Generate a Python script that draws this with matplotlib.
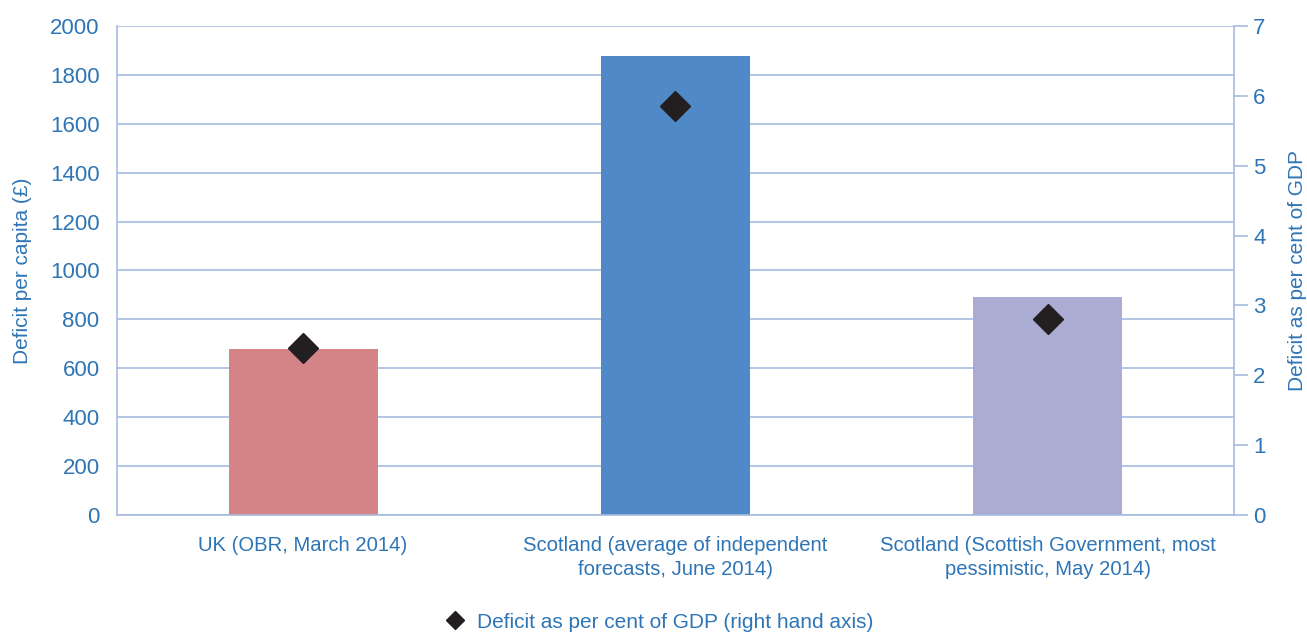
import matplotlib.pyplot as plt
from matplotlib.lines import Line2D

plt.rcParams['font.family'] = ['Liberation Sans', 'DejaVu Sans']

# data
categories = ["UK (OBR, March 2014)",
              "Scotland (average of independent\nforecasts, June 2014)",
              "Scotland (Scottish Government, most\npessimistic, May 2014)"]
per_capita = [680, 1877, 892]
pct_gdp = [2.39, 5.86, 2.81]
bar_colors = ["#D48387", "#4F89C7", "#AAACD3"]

text_col = "#2E75B6"
line_col = "#A7BADF"

fig = plt.figure(figsize=(13.07, 6.33), dpi=100)
ax = fig.add_axes([0.0895, 0.1864, 0.8545, 0.7726])
x = range(len(categories))
ax.bar(x, per_capita, width=0.4, color=bar_colors, zorder=2)
ax.set_xlim(-0.5, 2.5)
ax.set_ylim(0, 2000)
ax.set_yticks(range(0, 2001, 200))
ax.grid(axis='y', color=line_col, linewidth=1.2, zorder=0)
ax.set_xticks(list(x))
ax.set_xticklabels(categories, linespacing=1.32)
ax.tick_params(axis='both', length=0, labelsize=16, labelcolor=text_col)
ax.tick_params(axis='x', labelsize=14.6, pad=15)
ax.tick_params(axis='y', pad=12.5)
for s in ['top', 'right']:
    ax.spines[s].set_visible(False)
for s in ['left', 'bottom']:
    ax.spines[s].set_color(line_col)
    ax.spines[s].set_linewidth(1.2)
ax.set_ylabel("Deficit per capita (£)", color=text_col, fontsize=15, labelpad=13)

ax2 = ax.twinx()
ax2.plot(x, pct_gdp, linestyle='none', marker='D', markersize=15,
         color="#231F20", zorder=3)
ax2.set_ylim(0, 7)
ax2.set_yticks(range(0, 8))
ax2.tick_params(axis='y', length=10, width=1.2, color=line_col, labelsize=16,
                labelcolor=text_col, pad=4)
for s in ['top', 'left', 'bottom']:
    ax2.spines[s].set_visible(False)
ax2.spines['right'].set_color(line_col)
ax2.spines['right'].set_linewidth(1.2)
ax2.set_ylabel("Deficit as per cent of GDP", color=text_col, fontsize=15,
               labelpad=16)

handle = Line2D([], [], linestyle='none', marker='D', markersize=9,
                color="#231F20")
fig.legend([handle], ["Deficit as per cent of GDP (right hand axis)"],
           loc='center', bbox_to_anchor=(0.5, 0.017), frameon=False,
           fontsize=15, labelcolor=text_col, handletextpad=0.05)

fig.savefig("out.png", dpi=100)
